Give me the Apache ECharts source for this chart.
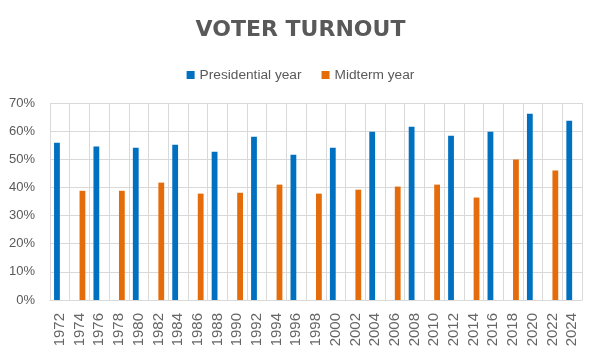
<!DOCTYPE html>
<html><head><meta charset="utf-8">
<script src="https://cdn.jsdelivr.net/npm/echarts@6/dist/echarts.min.js"></script>
<style>html,body{margin:0;padding:0;background:#fff}#c{width:601px;height:361px}</style>
</head><body><div id="c"></div>
<script>
const years = ['1972','1974','1976','1978','1980','1982','1984','1986','1988','1990','1992','1994','1996','1998','2000','2002','2004','2006','2008','2010','2012','2014','2016','2018','2020','2022','2024'];
const presidential = [55.9,null,54.5,null,54.1,null,55.2,null,52.7,null,58.0,null,51.6,null,54.1,null,59.8,null,61.6,null,58.4,null,59.8,null,66.2,null,63.7];
const midterm = [null,38.8,null,38.8,null,41.7,null,37.8,null,38.1,null,41.0,null,37.8,null,39.2,null,40.3,null,41.0,null,36.4,null,49.9,null,46.0,null];
const yTicks = [0,10,20,30,40,50,60,70];

const grey = '#595959';
const font = 'Liberation Sans, Arial, sans-serif';
const chart = echarts.init(document.getElementById('c'), null, {renderer:'canvas'});
chart.setOption({
  animation:false,
  title:{text:'VOTER TURNOUT', left:'center', top:14,
    textStyle:{fontFamily:'DejaVu Sans', fontWeight:'bold', fontSize:22, color:grey}},
  legend:{top:63, left:'center', itemWidth:8, itemHeight:8, itemGap:20, icon:'rect',
    textStyle:{fontFamily:font, fontSize:13.7, color:grey}},
  grid:{left:50, right:19, top:103, bottom:61, containLabel:false},
  xAxis:{type:'category', data:years, boundaryGap:true,
    axisLine:{lineStyle:{color:'#d9d9d9'}}, axisTick:{show:false},
    splitLine:{show:true, lineStyle:{color:'#d9d9d9'}},
    axisLabel:{rotate:90, interval:0, margin:13, fontFamily:font, fontSize:15, color:'#666'}},
  yAxis:{type:'value', min:yTicks[0], max:yTicks[yTicks.length-1], interval:10,
    axisLine:{show:false}, axisTick:{show:false},
    splitLine:{lineStyle:{color:'#d9d9d9'}},
    axisLabel:{formatter:'{value}%', margin:15, fontFamily:font, fontSize:13, color:grey}},
  series:[
    {name:'Presidential year', type:'bar', data:presidential, barWidth:5.8, barGap:'0%', itemStyle:{color:'#0070C0'}},
    {name:'Midterm year', type:'bar', data:midterm, barWidth:5.8, barGap:'0%', itemStyle:{color:'#E46C0A'}}
  ]
});
</script></body></html>
